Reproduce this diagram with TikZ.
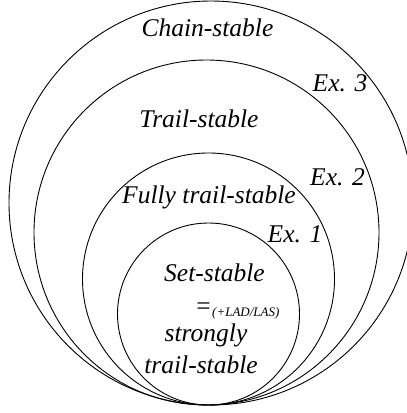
\documentclass[tikz,border=0pt]{standalone}
\usepackage{fontspec}
\setmainfont{Liberation Serif}
\begin{document}
\begin{tikzpicture}[x=1pt,y=-1pt,
  ring/.style={draw=black,line width=0.9pt},
  lbl/.style={inner sep=0pt,anchor=base,font=\fontsize{25.5}{30}\selectfont\itshape},
  sublbl/.style={inner sep=0pt,anchor=base west,font=\fontsize{13}{15}\selectfont\itshape}]
\useasboundingbox (0,0) rectangle (407,413);
\clip (0,0) rectangle (407,413);
\draw[ring] (211,203) circle[radius=202];
\draw[ring] (206.5,232.5) circle[radius=172.5];
\draw[ring] (208.5,279) circle[radius=126];
\draw[ring] (208.5,314) circle[radius=91];
\node[lbl] (chain) at (207.5,36) {Chain-stable};
\node[lbl] (ex3) at (340,91) {Ex. 3};
\node[lbl] (trail) at (199,127) {Trail-stable};
\node[lbl] (ex2) at (337.5,185) {Ex. 2};
\node[lbl] (fully) at (209,203) {Fully trail-stable};
\node[lbl] (ex1) at (295,242) {Ex. 1};
\node[lbl] (set) at (214.5,281) {Set-stable};
\node[lbl,anchor=base east,font=\fontsize{25.5}{30}\selectfont] (eq) at (211,314) {=};
\node[sublbl] (sub) at (212,316) {(+LAD/LAS)};
\node[lbl] (strong) at (206,341) {strongly};
\node[lbl] (strail) at (201,373) {trail-stable};
\end{tikzpicture}
\end{document}
